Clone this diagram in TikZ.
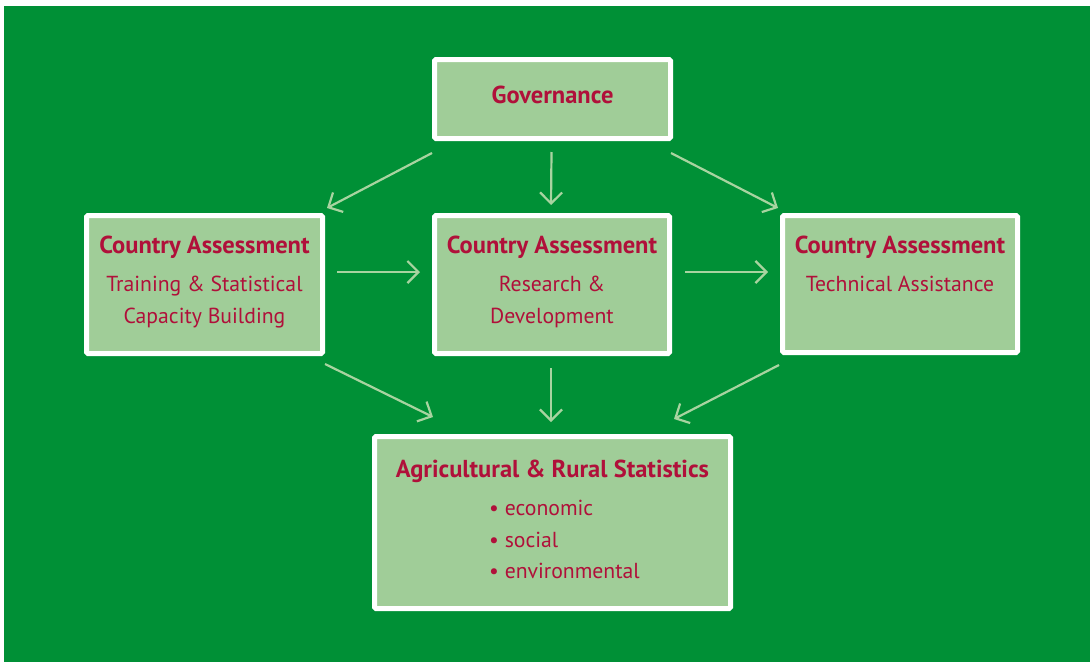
\documentclass[tikz,border=0pt]{standalone}
\usepackage{fontspec}
\setmainfont{PT Sans}
\usetikzlibrary{arrows.meta,calc}
\definecolor{bggreen}{RGB}{0,144,54}
\definecolor{boxfill}{RGB}{160,205,152}
\definecolor{txtred}{RGB}{176,16,58}
\definecolor{arrgreen}{RGB}{168,212,160}
\begin{document}
\begin{tikzpicture}[x=1pt,y=-1pt,
  box/.style={draw=white,line width=5pt,fill=boxfill,rounded corners=1.5pt,inner sep=0pt},
  ttl/.style={anchor=base,text=txtred,font=\fontsize{24.5}{28}\selectfont\bfseries,inner sep=0pt},
  sub/.style={anchor=base,text=txtred,font=\fontsize{21.7}{26}\selectfont,inner sep=0pt},
  bul/.style={anchor=base west,text=txtred,font=\fontsize{21.7}{26}\selectfont,inner sep=0pt},
  conn/.style={draw=arrgreen,line width=2.2pt,-{Straight Barb[length=11pt,width=22pt,line width=2.2pt]}}]
\useasboundingbox (0,0) rectangle (1090,662);
\fill[white] (0,0) rectangle (1090,662);
\fill[bggreen] (4,6) rectangle (1090,662);
% boxes
\node[box,minimum width=236pt,minimum height=79pt] (gov) at (552.5,99) {};
\node[box,minimum width=236pt,minimum height=138pt] (left) at (204.5,284.5) {};
\node[box,minimum width=235pt,minimum height=138pt] (mid) at (552,284.5) {};
\node[box,minimum width=235pt,minimum height=137pt] (right) at (900,284) {};
\node[box,minimum width=356pt,minimum height=172pt] (bot) at (552.5,522.5) {};
% texts
\node[ttl] (govt) at (552.5,103) {Governance};
\node[ttl] (leftt) at (204.5,253) {Country Assessment};
\node[sub] (lefts1) at (204.5,291) {Training \& Statistical};
\node[sub] (lefts2) at (204.5,323) {Capacity Building};
\node[ttl] (midt) at (552,253) {Country Assessment};
\node[sub] (mids1) at (552,291) {Research \&};
\node[sub] (mids2) at (552,323) {Development};
\node[ttl] (rightt) at (900,253) {Country Assessment};
\node[sub] (rights1) at (900,291) {Technical Assistance};
\node[ttl] (bott) at (552.5,477) {Agricultural \& Rural Statistics};
\node[bul] (b1) at (489,515) {• economic};
\node[bul] (b2) at (489,547) {• social};
\node[bul] (b3) at (489,578) {• environmental};
% connectors
\draw[conn] ($(gov.south west)+(0,12)$) -- ($(left.north east)+(2,-5)$);
\draw[conn] ($(gov.south)+(-1,11)$) -- ($(mid.north)+(-1,-8)$);
\draw[conn] ($(gov.south east)+(-2,12)$) -- ($(right.north west)+(-2,-5)$);
\draw[conn] ($(left.east)+(12,-12.5)$) -- ($(mid.west)+(-12,-12.5)$);
\draw[conn] ($(mid.east)+(13,-12.5)$) -- ($(right.west)+(-12,-12)$);
\draw[conn] ($(left.south east)+(0,8)$) -- ($(bot.north west)+(61,-17)$);
\draw[conn] ($(mid.south)+(-1,12)$) -- ($(bot.north)+(-1.5,-12)$);
\draw[conn] ($(right.south west)+(-1,10)$) -- ($(bot.north east)+(-59,-15)$);
\end{tikzpicture}
\end{document}
